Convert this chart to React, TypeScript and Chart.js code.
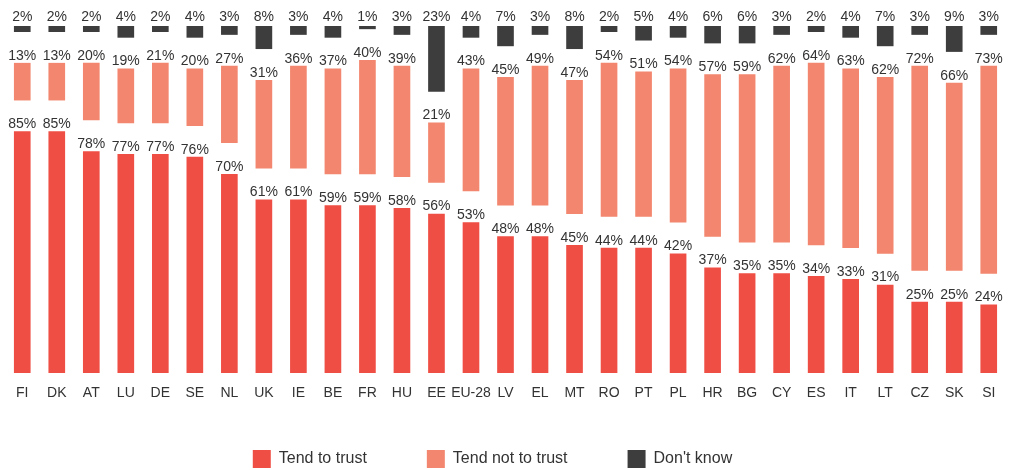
import React, { useEffect, useRef } from 'react';
import { Chart, registerables } from 'chart.js';

Chart.register(...registerables);

const countries = ['FI', 'DK', 'AT', 'LU', 'DE', 'SE', 'NL', 'UK', 'IE', 'BE', 'FR', 'HU', 'EE', 'EU-28', 'LV', 'EL', 'MT', 'RO', 'PT', 'PL', 'HR', 'BG', 'CY', 'ES', 'IT', 'LT', 'CZ', 'SK', 'SI'];
const trust = [85, 85, 78, 77, 77, 76, 70, 61, 61, 59, 59, 58, 56, 53, 48, 48, 45, 44, 44, 42, 37, 35, 35, 34, 33, 31, 25, 25, 24];
const notTrust = [13, 13, 20, 19, 21, 20, 27, 31, 36, 37, 40, 39, 21, 43, 45, 49, 47, 54, 51, 54, 57, 59, 62, 64, 63, 62, 72, 66, 73];
const dontKnow = [2, 2, 2, 4, 2, 4, 3, 8, 3, 4, 1, 3, 23, 4, 7, 3, 8, 2, 5, 4, 6, 6, 3, 2, 4, 7, 3, 9, 3];
const seriesNames = ['Tend to trust', 'Tend not to trust', "Don't know"];
const colors = ['#ef4e45', '#f3866e', '#3d3d3d'];

const GAP = 11.1;
const Y_MAX = 122.2;
const FONT = '"Liberation Sans", Arial, Helvetica, sans-serif';

export default function App() {
  const ref = useRef<HTMLCanvasElement>(null);

  useEffect(() => {
    if (!ref.current) return;
    const trustBars = trust.map((v) => [0, v]);
    const ntBars = trust.map((t, i) => [t + GAP, t + GAP + notTrust[i]]);
    const dkBars = trust.map((t, i) => {
      const s = t + notTrust[i] + 2 * GAP;
      return [s, s + dontKnow[i]];
    });
    const values = [trust, notTrust, dontKnow];

    const labelPlugin = {
      id: 'valueLabels',
      afterDatasetsDraw(chart: any) {
        const ctx = chart.ctx;
        ctx.save();
        ctx.font = '14px ' + FONT;
        ctx.fillStyle = '#333333';
        ctx.textAlign = 'center';
        ctx.textBaseline = 'alphabetic';
        chart.data.datasets.forEach((_ds: any, i: number) => {
          const meta = chart.getDatasetMeta(i);
          meta.data.forEach((bar: any, j: number) => {
            const top = Math.min(bar.y, bar.base);
            ctx.fillText(values[i][j] + '%', bar.x, top - (i === 2 ? 5 : 3.5));
          });
        });
        ctx.restore();
      },
    };

    const layoutTweak = {
      id: 'layoutTweak',
      afterLayout(chart: any) {
        const l = chart.legend;
        if (l) {
          l.left -= 13;
          l.right -= 13;
        }
        const x = chart.scales.x;
        if (x) x.bottom += 25;
      },
    };

    const chart = new Chart(ref.current, {
      type: 'bar',
      data: {
        labels: countries,
        datasets: [
          { label: seriesNames[0], data: trustBars as any, backgroundColor: colors[0] },
          { label: seriesNames[1], data: ntBars as any, backgroundColor: colors[1] },
          { label: seriesNames[2], data: dkBars as any, backgroundColor: colors[2] },
        ],
      },
      options: {
        responsive: false,
        animation: false,
        datasets: { bar: { grouped: false, barThickness: 16, borderWidth: 0 } } as any,
        layout: { padding: { top: 26, left: 5, right: 4, bottom: 0 } },
        plugins: {
          tooltip: { enabled: false },
          legend: {
            position: 'bottom',
            labels: {
              boxWidth: 18,
              boxHeight: 18,
              padding: 60,
              color: '#333333',
              font: { size: 16, family: FONT },
            },
          },
        },
        scales: {
          x: {
            grid: { display: false, drawTicks: false },
            border: { display: false },
            ticks: {
              color: '#333333',
              font: { size: 14, family: FONT },
              padding: 12,
              autoSkip: false,
              maxRotation: 0,
            },
            afterFit: (scale: any) => {
              scale.height = 17;
            },
          },
          y: {
            display: false,
            min: 0,
            max: Y_MAX,
          },
        },
      },
      plugins: [labelPlugin, layoutTweak],
    });
    return () => chart.destroy();
  }, []);

  return (
    <div style={{ position: 'fixed', left: 0, top: 0, width: 1010, height: 478, background: '#ffffff' }}>
      <canvas ref={ref} width={1010} height={478} style={{ display: 'block' }} />
    </div>
  );
}
